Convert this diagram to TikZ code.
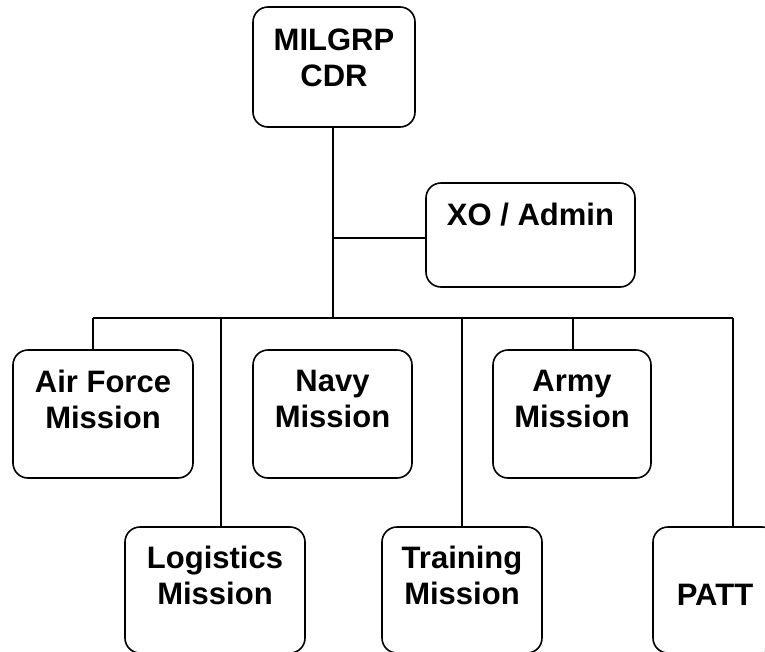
\documentclass[tikz,border=0pt]{standalone}
\usepackage{fontspec}
\setmainfont{Liberation Sans}
\begin{document}
\begin{tikzpicture}[x=1pt,y=-1pt,
  orgbox/.style={draw, line width=1.6pt, rounded corners=15pt, inner sep=0pt},
  lbl/.style={font=\bfseries\fontsize{31}{36}\selectfont, align=center, inner sep=0pt},
  conn/.style={line width=1.3pt}]
\useasboundingbox (0,0) rectangle (765,651);
% boxes
\node[orgbox, minimum width=162pt, minimum height=120pt] (cdr) at (334,67) {};
\node[orgbox, minimum width=209pt, minimum height=104pt] (xo) at (530.5,235) {};
\node[orgbox, minimum width=180pt, minimum height=128pt] (af) at (103,414) {};
\node[orgbox, minimum width=159pt, minimum height=128pt] (navy) at (332.5,414) {};
\node[orgbox, minimum width=158pt, minimum height=128pt] (army) at (572,414) {};
\node[orgbox, minimum width=180pt, minimum height=126pt] (log) at (215,590) {};
\node[orgbox, minimum width=160pt, minimum height=126pt] (trn) at (462,590) {};
\node[orgbox, minimum width=124pt, minimum height=126pt] (patt) at (715,590) {};
% labels
\node[lbl] (tcdr) at (334,58) {MILGRP\\CDR};
\node[lbl] (txo) at (530.5,215) {XO / Admin};
\node[lbl] (taf) at (103,399) {Air Force\\Mission};
\node[lbl] (tnavy) at (332.5,399) {Navy\\Mission};
\node[lbl] (tarmy) at (572,399) {Army\\Mission};
\node[lbl] (tlog) at (215,575) {Logistics\\Mission};
\node[lbl] (ttrn) at (462,575) {Training\\Mission};
\node[lbl] (tpatt) at (715,595) {PATT};
% connectors
\coordinate (bus) at (333,318);
\coordinate (j1) at (333,238);
\coordinate (bl) at (93,318);
\coordinate (br) at (733,318);
\coordinate (dlog) at (221,318);
\coordinate (dtrn) at (462,318);
\coordinate (darmy) at (573,318);
\draw[conn] (bus |- cdr.south) -- (bus);
\draw[conn] (j1) -- (j1 -| xo.west);
\draw[conn] (bl) -- (br);
\draw[conn] (bl) -- (bl |- af.north);
\draw[conn] (dlog) -- (dlog |- log.north);
\draw[conn] (dtrn) -- (dtrn |- trn.north);
\draw[conn] (darmy) -- (darmy |- army.north);
\draw[conn] (br) -- (br |- patt.north);
\end{tikzpicture}
\end{document}
